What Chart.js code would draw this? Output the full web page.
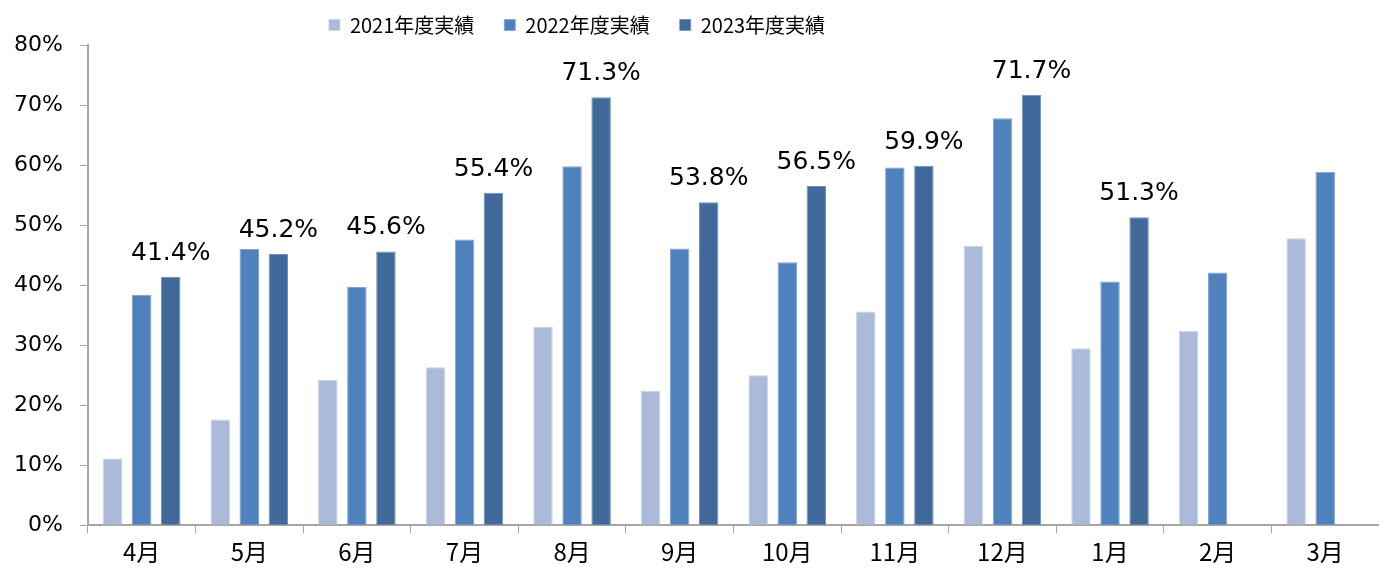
<!DOCTYPE html>
<html lang="ja">
<head>
<meta charset="utf-8">
<script src="https://cdn.jsdelivr.net/npm/chart.js@4/dist/chart.umd.min.js"></script>
<style>
  html, body { margin: 0; padding: 0; background: #ffffff; }
  #wrap { width: 1379px; height: 573px; position: relative; }
</style>
</head>
<body>
<div id="wrap"><canvas id="rateChart"></canvas></div>
<script>
// 月別実績（%）
const months = ['4月', '5月', '6月', '7月', '8月', '9月', '10月', '11月', '12月', '1月', '2月', '3月'];
const fy2021 = [11.1, 17.6, 24.2, 26.3, 33.0, 22.4, 25.0, 35.6, 46.5, 29.5, 32.4, 47.8];
const fy2022 = [38.4, 46.0, 39.7, 47.6, 59.8, 46.1, 43.8, 59.6, 67.8, 40.6, 42.1, 58.9];
const fy2023 = [41.4, 45.2, 45.6, 55.4, 71.3, 53.8, 56.5, 59.9, 71.7, 51.3, null, null];
const yTicks = [0, 10, 20, 30, 40, 50, 60, 70, 80];

const COLORS = { fy2021: '#abbad8', fy2022: '#4f81bd', fy2023: '#416a9b', axis: '#a6a6a6' };
const JP_FONT = '"Noto Sans CJK JP", "DejaVu Sans", sans-serif';

// 2023年度の値だけ棒の上にラベルを出す
const topLabels = {
    id: 'topLabels',
    afterDatasetsDraw(chart) {
        const meta = chart.getDatasetMeta(2);
        const ctx = chart.ctx;
        ctx.save();
        ctx.font = '25px "DejaVu Sans", sans-serif';
        ctx.fillStyle = '#000000';
        ctx.textAlign = 'center';
        ctx.textBaseline = 'alphabetic';
        meta.data.forEach((bar, i) => {
            const v = fy2023[i];
            if (v == null) return;
            ctx.fillText(v.toFixed(1) + '%', bar.x, bar.y - 17);
        });
        ctx.restore();
    }
};

// 凡例は元図だと少し左寄り
const legendShift = {
    id: 'legendShift',
    afterLayout(chart) {
        if (!chart.legend) return;
        chart.legend.left -= 111;
        chart.legend.right -= 111;
    }
};

const ctx = document.getElementById('rateChart').getContext('2d');
new Chart(ctx, {
    type: 'bar',
    data: {
        labels: months,
        datasets: [
            { label: '2021年度実績', data: fy2021, backgroundColor: COLORS.fy2021, borderColor: '#c9d3e8', borderWidth: { top: 1, left: 1, right: 1 }, borderSkipped: 'bottom' },
            { label: '2022年度実績', data: fy2022, backgroundColor: COLORS.fy2022, borderColor: '#7fa3d1', borderWidth: { top: 1, left: 1, right: 1 }, borderSkipped: 'bottom' },
            { label: '2023年度実績', data: fy2023, backgroundColor: COLORS.fy2023, borderColor: '#6e8fb8', borderWidth: { top: 1, left: 1, right: 1 }, borderSkipped: 'bottom' }
        ]
    },
    options: {
        responsive: true,
        maintainAspectRatio: false,
        animation: false,
        datasets: { bar: { categoryPercentage: 0.81, barPercentage: 0.67 } },
        layout: { padding: { left: -3, right: 0, top: -27, bottom: 3 } },
        plugins: {
            legend: {
                position: 'top',
                align: 'center',
                labels: {
                    boxWidth: 11, boxHeight: 11, padding: 30,
                    color: '#000000',
                    font: { family: JP_FONT, size: 20 }
                }
            },
            tooltip: { enabled: false }
        },
        scales: {
            x: {
                afterFit: s => { s.paddingRight = 0; s.paddingLeft = 0; },
                grid: { display: true, offset: true, drawOnChartArea: false, drawTicks: true, tickLength: 8, color: COLORS.axis },
                border: { display: true, color: COLORS.axis, width: 2 },
                ticks: { color: '#000000', padding: 4, font: { family: JP_FONT, size: 24 } }
            },
            y: {
                min: 0, max: 80,
                // 上端を凡例から少し離す
                afterFit: s => { s.paddingTop = 45; },
                afterBuildTicks: axis => { axis.ticks = yTicks.map(v => ({ value: v })); },
                grid: { drawOnChartArea: false, drawTicks: true, tickLength: 8, color: COLORS.axis },
                border: { display: true, color: COLORS.axis, width: 2 },
                ticks: { color: '#000000', padding: 17, font: { family: '"DejaVu Sans", sans-serif', size: 22 }, callback: v => v + '%' }
            }
        }
    },
    plugins: [topLabels, legendShift]
});
</script>
</body>
</html>
